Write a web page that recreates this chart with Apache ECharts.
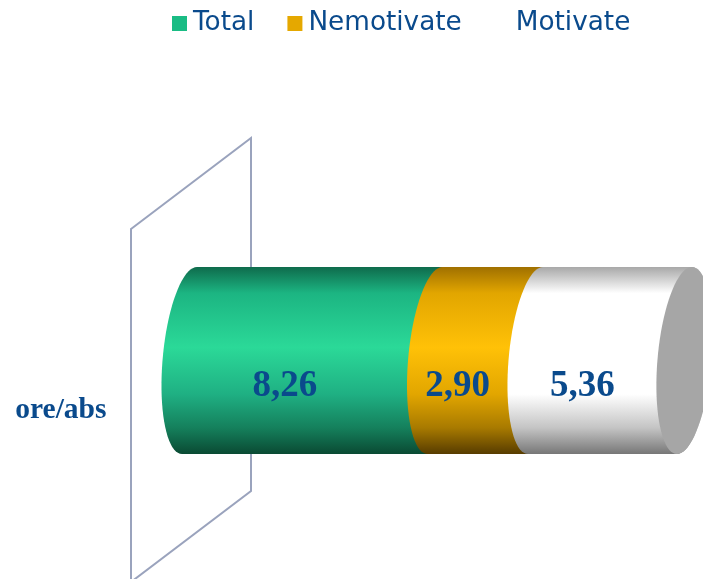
<!DOCTYPE html>
<html>
<head>
<meta charset="utf-8">
<title>ore/abs</title>
<script src="https://cdn.jsdelivr.net/npm/echarts@6/dist/echarts.min.js"></script>
<style>
  html, body { margin: 0; padding: 0; background: #fff; }
  #chart { width: 703px; height: 579px; }
</style>
</head>
<body>
<div id="chart"></div>
<script>
  const categories = ['ore/abs']
  const seriesNames = ['Total', 'Nemotivate', 'Motivate']
  // printed on the bands
  const valueLabels = ['8,26', '2,90', '5,36']
  // band lengths as measured on the picture, they do not follow the printed numbers exactly
  const bandLengths = [8.26, 3.38, 5.01]

  const legendColors = ['#1abc84', '#e5a800', '#ffffff']
  const bandStops = [
    ['#0f6b4c', '#1cb582', '#2bd998', '#1fb083', '#15805c', '#0a4a33'],
    ['#a07000', '#e2a600', '#ffc107', '#e2a600', '#a87a00', '#573c00'],
    ['#a8a8a8', '#ffffff', '#ffffff', '#ffffff', '#c4c4c4', '#777777']
  ]
  const stopOffsets = [0, 0.14, 0.43, 0.68, 0.86, 1]

  const textColor = '#0a4a8c'
  const capColor = '#a6a6a6'
  const rx = 27
  const skew = 7.5

  // one edge of the tilted ring, from top to bottom, through the left or right side
  const ringEdge = (cx, cy, ry, side) => {
    const pts = []
    for (let i = 0; i <= 40; i++) {
      const t = -Math.PI / 2 + (Math.PI * i) / 40
      const s = Math.sin(t)
      pts.push([cx + side * rx * Math.cos(t) - skew * s, cy + ry * s])
    }
    return pts
  }

  const renderBand = (index) => (params, api) => {
    const start = api.coord([api.value(0), api.value(2)])
    const end = api.coord([api.value(1), api.value(2)])
    const ry = api.size([0, 1])[1] / 2
    const cy = start[1]
    const left = ringEdge(start[0], cy, ry, -1)
    const right = ringEdge(end[0], cy, ry, 1)
    const outline = right.concat(left.slice().reverse())
    const children = [{
      type: 'polygon',
      shape: { points: outline },
      style: {
        fill: {
          type: 'linear', x: 0, y: 0, x2: 0, y2: 1,
          colorStops: stopOffsets.map((offset, i) => ({ offset, color: bandStops[index][i] }))
        }
      }
    }]
    if (index === bandLengths.length - 1) {
      children.push({
        type: 'polygon',
        shape: { points: ringEdge(end[0], cy, ry, -1).concat(right.slice().reverse()) },
        style: { fill: capColor }
      })
    }
    children.push({
      type: 'text',
      x: (start[0] + end[0]) / 2 - 27.5,
      y: cy + 25.5,
      style: {
        text: valueLabels[index],
        font: 'bold 37px "Liberation Serif"',
        fill: textColor,
        align: 'center',
        verticalAlign: 'middle'
      }
    })
    return { type: 'group', children }
  }

  let runningStart = 0
  const series = seriesNames.map((name, i) => {
    const from = runningStart
    runningStart += bandLengths[i]
    return {
      name,
      type: 'custom',
      clip: false,
      animation: false,
      itemStyle: { color: legendColors[i] },
      renderItem: renderBand(i),
      encode: { x: [0, 1], y: 2 },
      data: [[from, runningStart, 0]]
    }
  })

  const chart = echarts.init(document.getElementById('chart'))
  chart.setOption({
    backgroundColor: '#fff',
    animation: false,
    legend: {
      left: 167,
      top: 5.5,
      icon: 'rect',
      itemWidth: 15,
      itemHeight: 15,
      itemGap: 33,
      data: seriesNames,
      textStyle: {
        fontFamily: 'DejaVu Sans',
        fontSize: 26.3,
        color: textColor,
        padding: [0, 0, 0, 1]
      }
    },
    grid: { left: 189.5, top: 267, width: 505.3, height: 187 },
    xAxis: { type: 'value', min: 0, max: 17, show: false },
    yAxis: {
      type: 'category',
      data: categories,
      axisLine: { show: false },
      axisTick: { show: false },
      splitLine: { show: false },
      axisLabel: {
        margin: 83,
        verticalAlign: 'top',
        lineHeight: 100,
        fontFamily: 'Liberation Serif',
        fontWeight: 'bold',
        fontSize: 29.5,
        color: textColor
      }
    },
    // the back wall of the 3D plot
    graphic: [{
      type: 'polygon',
      z: 0,
      shape: { points: [[131, 229], [251, 138], [251, 491], [131, 582]] },
      style: { fill: 'none', stroke: '#9aa3bd', lineWidth: 2 }
    }],
    series
  })
</script>
</body>
</html>
